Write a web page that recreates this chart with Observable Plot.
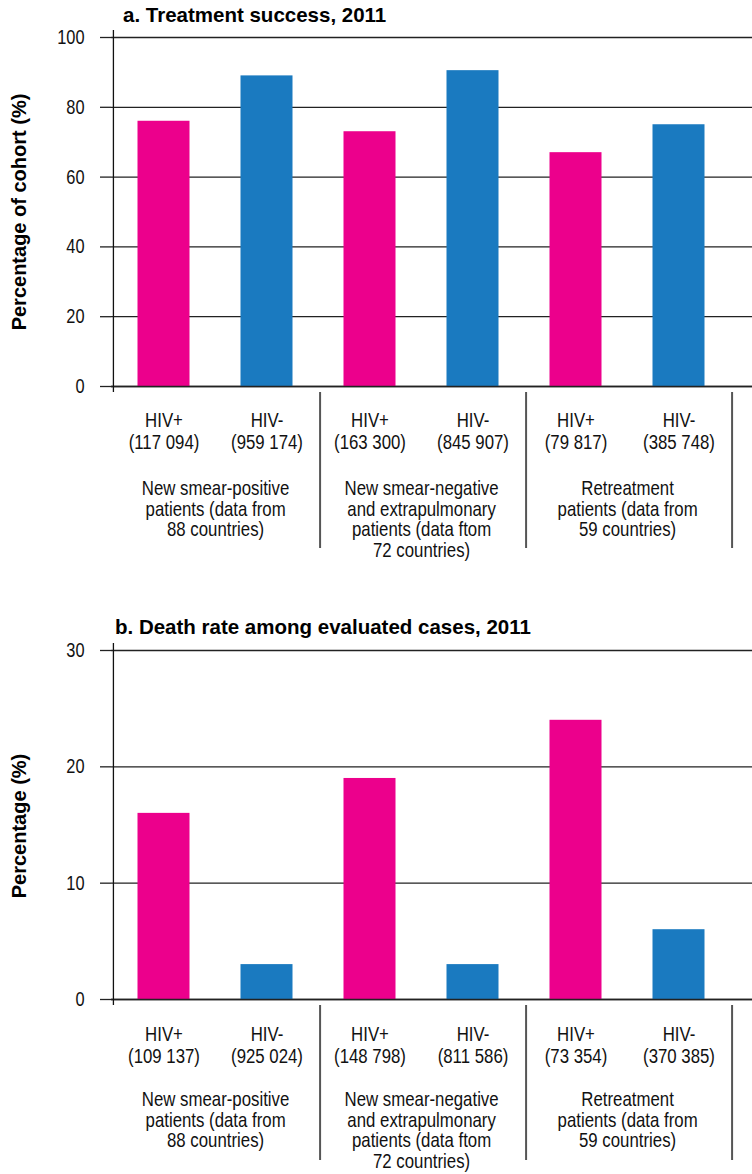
<!DOCTYPE html>
<html><head><meta charset="utf-8">
<script src="https://cdn.jsdelivr.net/npm/d3@7"></script>
<script src="https://cdn.jsdelivr.net/npm/@observablehq/plot@0.6"></script>
<style>
body{margin:0;background:#fff;}
#wrap{position:relative;width:752px;height:1174px;overflow:hidden;background:#fff;}
.box{position:absolute;left:0;}
.title{position:absolute;font-family:"Liberation Sans",Arial,sans-serif;font-weight:bold;font-size:20.5px;line-height:1;white-space:nowrap;color:#000;}
.ylab{position:absolute;font-family:"Liberation Sans",Arial,sans-serif;font-weight:bold;font-size:20px;line-height:1;white-space:nowrap;color:#000;transform:translate(-50%,-50%) rotate(-90deg);}
</style></head><body><div id="wrap"></div>
<script>
const hivStatus = ["HIV+", "HIV-"];
const patientGroups = [
  "New smear-positive\npatients (data from\n88 countries)",
  "New smear-negative\nand extrapulmonary\npatients (data ftom\n72 countries)",
  "Retreatment\npatients (data from\n59 countries)"
];
const successCohorts = ["117 094", "959 174", "163 300", "845 907", "79 817", "385 748"];
const successValues = [76, 89, 73, 90.5, 67, 75];
const successTicks = [0, 20, 40, 60, 80, 100];
const deathCohorts = ["109 137", "925 024", "148 798", "811 586", "73 354", "370 385"];
const deathValues = [16, 3, 19, 3, 24, 6];
const deathTicks = [0, 10, 20, 30];
const titles = ["a. Treatment success, 2011", "b. Death rate among evaluated cases, 2011"];
const yLabels = ["Percentage of cohort (%)", "Percentage (%)"];
const colors = ["#ec008c", "#1a7ac0"];

const font = '"Liberation Sans",Arial,sans-serif';
const narrowScale = 0.82;

function drawPanel({values, cohorts, ticks, yMax, height, marginTop, marginBottom, sepTop, sepBottom, tickPad, groupDy}) {
  const rows = values.map((v, i) => ({
    label: `${hivStatus[i % 2]}\n(${cohorts[i]})`,
    status: hivStatus[i % 2],
    value: v,
    group: patientGroups[Math.floor(i / 2)]
  }));
  const labels = rows.map(d => d.label);
  const x0 = 111, x1 = 730;
  const step = (x1 - x0) / labels.length;
  const svg = Plot.plot({
    width: 752, height, marginTop, marginBottom, marginLeft: 111, marginRight: 0,
    style: {fontFamily: font, fontSize: "20px", color: "#222", background: "#fff", overflow: "visible"},
    x: {domain: labels, range: [x0, x1], padding: 0},
    y: {domain: [0, yMax]},
    color: {domain: hivStatus, range: colors},
    marks: [
      Plot.ruleY(ticks, {stroke: "#222", strokeWidth: 1.3}),
      Plot.barY(rows, {x: "label", y: "value", fill: "status", insetLeft: 25.5, insetRight: 25.5}),
      Plot.ruleY([0], {stroke: "#222", strokeWidth: 1.3}),
      Plot.axisY({ticks, tickSize: 11, tickPadding: 16, tickFormat: d => d, label: null, fontSize: 20, stroke: "#222", strokeWidth: 1.3, fill: "#111"}),
      Plot.axisX({tickSize: 0, tickPadding: tickPad, label: null, lineHeight: 1.07, fontSize: 20.5, fill: "#111"}),
      Plot.ruleX([labels[0]], {dx: -step / 2 + 1, insetTop: -7, insetBottom: -6, stroke: "#111", strokeWidth: 1.3}),
      Plot.ruleX([labels[1], labels[3], labels[5]], {dx: step / 2 + 1.5, insetTop: sepTop, insetBottom: sepBottom, stroke: "#555", strokeWidth: 2}),
      Plot.text(rows.filter((d, i) => i % 2 === 0), {x: "label", text: "group", dx: step / 2, frameAnchor: "bottom", lineAnchor: "top", dy: groupDy, lineHeight: 1.0, fontSize: 20.5, fill: "#111"})
    ]
  });
  // narrow the label glyphs horizontally around their anchors
  d3.select(svg).selectAll("text").each(function () {
    const t = this.getAttribute("transform") || "";
    this.setAttribute("transform", `${t} scale(${narrowScale},1)`);
  });
  return svg;
}

const wrap = document.getElementById("wrap");
function place(el, top) {
  const d = document.createElement("div");
  d.className = "box";
  d.style.top = top + "px";
  d.appendChild(el);
  wrap.appendChild(d);
}
place(drawPanel({values: successValues, cohorts: successCohorts, ticks: successTicks, yMax: 100,
  height: 575, marginTop: 37, marginBottom: 189, sepTop: 355, sepBottom: -162, tickPad: 25, groupDy: 94}), 0);
place(drawPanel({values: deathValues, cohorts: deathCohorts, ticks: deathTicks, yMax: 30,
  height: 599, marginTop: 75, marginBottom: 175, sepTop: 355, sepBottom: -161, tickPad: 26, groupDy: 92}), 575);

function addTitle(text, left, top) {
  const d = document.createElement("div");
  d.className = "title"; d.textContent = text;
  d.style.left = left + "px"; d.style.top = top + "px";
  wrap.appendChild(d);
}
function addYLabel(text, cx, cy) {
  const d = document.createElement("div");
  d.className = "ylab"; d.textContent = text;
  d.style.left = cx + "px"; d.style.top = cy + "px";
  wrap.appendChild(d);
}
addTitle(titles[0], 123, 5);
addTitle(titles[1], 115, 617);
addYLabel(yLabels[0], 19, 212);
addYLabel(yLabels[1], 19, 826);
</script>
</body></html>
